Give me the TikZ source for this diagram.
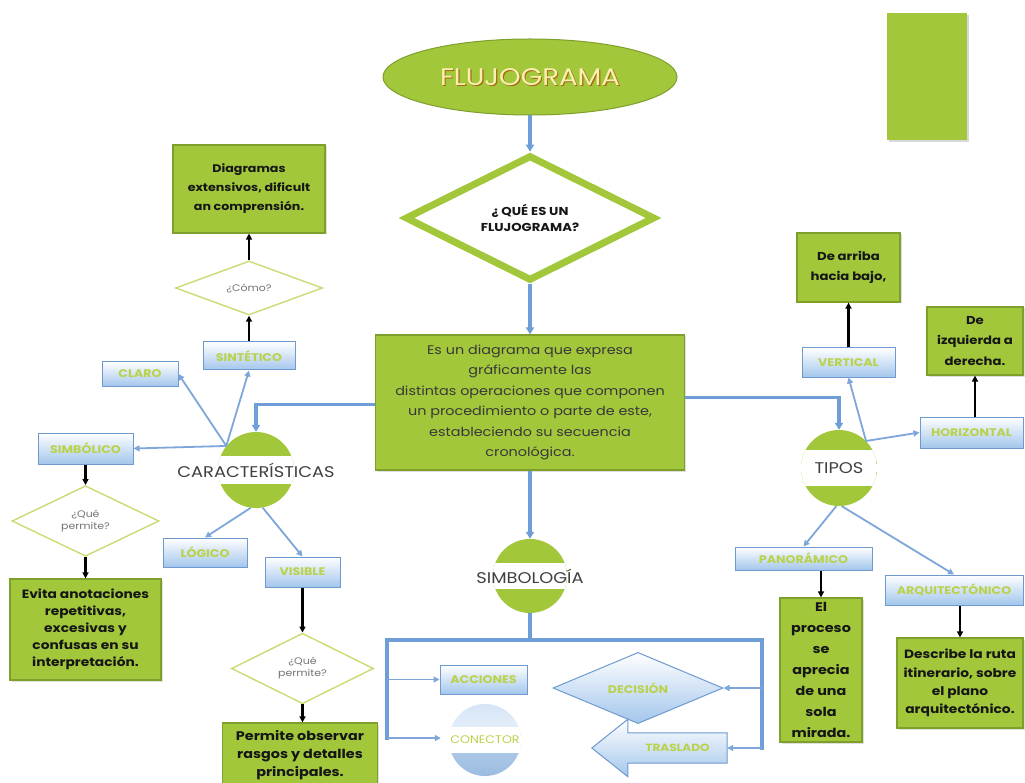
\documentclass[tikz,border=0pt]{standalone}
\usepackage{fontspec}
\setmainfont[FakeStretch=1.15]{Poppins}
\usetikzlibrary{arrows.meta,shapes.geometric,shadows}

\definecolor{leaf}{HTML}{A2C73B}
\definecolor{leafedge}{HTML}{7F9F2C}
\definecolor{flow}{HTML}{6E9DD7}
\definecolor{flowthin}{HTML}{7EA6DA}
\definecolor{skyedge}{HTML}{6E9AD0}
\definecolor{skylow}{HTML}{A3C6EC}
\definecolor{tag}{HTML}{B9D24A}
\definecolor{askedge}{HTML}{CBDB74}
\definecolor{ink}{HTML}{161616}
\definecolor{titlefill}{HTML}{F8F0B0}
\definecolor{titlerim}{HTML}{A8680E}

\tikzset{
  leafbox/.style={rectangle, fill=leaf, draw=leafedge, line width=1.2pt, align=center,
    text=ink, inner sep=2pt,
    drop shadow={opacity=0.25, shadow xshift=1.5pt, shadow yshift=-1.5pt}},
  skybox/.style={rectangle, top color=white, bottom color=skylow, draw=skyedge,
    line width=1pt, text=tag, font=\bfseries\fontsize{11}{11}\selectfont, inner sep=0pt},
  askdiamond/.style={diamond, draw=askedge, line width=1.4pt, fill=white, inner sep=0pt,
    text=black!55, align=center, font=\fontsize{9.5}{12}\selectfont},
  bandcircle/.style 2 args={circle, fill=leaf, inner sep=0pt, minimum size=#1,
    path picture={\fill[white] ([yshift=-#2]path picture bounding box.west)
      rectangle ([yshift=#2]path picture bounding box.east);}},
  bandtext/.style={text=black!75, font=\fontsize{15.5}{15.5}\selectfont},
  titleshadow/.style={text=titlerim, font=\fontsize{24}{24}\selectfont, xshift=1.2pt, yshift=-1.2pt},
  titletext/.style={text=titlefill, font=\fontsize{24}{24}\selectfont},
  thickflow/.style={draw=flow, line width=3.2pt, -{Triangle[length=7pt,width=8pt]}},
  thickline/.style={draw=flow, line width=3.2pt},
  thinflow/.style={draw=flowthin, line width=1.8pt, -{Triangle[length=6pt,width=6pt]}},
  blackarrow/.style={draw=black, line width=2.2pt, -{Triangle[length=6pt,width=6pt]}},
}

\begin{document}
\begin{tikzpicture}[x=1pt,y=-1pt]
\useasboundingbox (0,0) rectangle (1025,783);
\fill[white] (0,0) rectangle (1025,783);
\clip (0,0) rectangle (1025,783);

% blank green card, upper right
\node[rectangle, fill=leaf, minimum width=80, minimum height=127, inner sep=0pt,
  drop shadow={opacity=0.3, shadow xshift=1.5pt, shadow yshift=-2pt}] (card) at (927,76.5) {};

% title and central question
\node[ellipse, fill=leaf, draw=leafedge, line width=1pt, minimum width=294, minimum height=76,
  label={[titleshadow]center:FLUJOGRAMA}, label={[titletext]center:FLUJOGRAMA}] (title) at (530,77) {};
\node[diamond, draw=leaf, line width=7pt, fill=white, minimum width=250, minimum height=113,
  inner sep=0pt, align=center, text=ink, font=\bfseries\fontsize{11.5}{16}\selectfont] (what) at (530,218)
  {¿ QUÉ ES UN\\ FLUJOGRAMA?};

% definition
\node[leafbox, minimum width=309, minimum height=135, text=black!78,
  font=\fontsize{12.5}{20.5}\selectfont] (desc) at (530,402.5)
  {Es un diagrama que expresa\\ gráficamente las\\ distintas operaciones que componen\\
   un procedimiento o parte de este,\\ estableciendo su secuencia\\ cronológica.};

% three hubs
\node[bandcircle={76pt}{14pt}, label={[bandtext]center:CARACTERÍSTICAS}] (traits) at (256,470) {};
\node[bandcircle={76pt}{18pt}, label={[bandtext]center:TIPOS}] (kinds) at (839,468) {};
\node[bandcircle={74pt}{13pt}, label={[bandtext]center:SIMBOLOGÍA}] (symb) at (530,576) {};

% characteristics branch
\node[skybox, minimum width=76, minimum height=24] (clear) at (140,374) {CLARO};
\node[skybox, minimum width=92, minimum height=28] (synth) at (249,356) {SINTÉTICO};
\node[askdiamond, minimum width=147, minimum height=53] (how) at (249,288) {¿Cómo?};
\node[leafbox, minimum width=152, minimum height=88, font=\bfseries\fontsize{11}{19}\selectfont]
  (diag) at (249,189) {Diagramas\\ extensivos, dificult\\ an comprensión.};
\node[skybox, minimum width=95, minimum height=31] (symbolic) at (85.5,448.5) {SIMBÓLICO};
\node[askdiamond, minimum width=147, minimum height=52] (ask1) at (85.5,521) {¿Qué\\ permite?};
\node[leafbox, minimum width=151, minimum height=101, font=\bfseries\fontsize{12}{17}\selectfont]
  (avoid) at (85.5,629.5) {Evita anotaciones\\ repetitivas,\\ excesivas y\\ confusas en su\\ interpretación.};
\node[skybox, minimum width=84, minimum height=29] (logical) at (205,552.5) {LÓGICO};
\node[skybox, minimum width=75, minimum height=30] (visible) at (302.5,572) {VISIBLE};
\node[askdiamond, minimum width=142, minimum height=63] (ask2) at (302.5,668.5) {¿Qué\\ permite?};
\node[leafbox, minimum width=155, minimum height=64, font=\bfseries\fontsize{12.5}{18.3}\selectfont]
  (observe) at (300,755) {Permite observar\\ rasgos y detalles\\ principales.};

% types branch
\node[skybox, minimum width=93, minimum height=29] (vertical) at (848.5,362.5) {VERTICAL};
\node[leafbox, minimum width=103, minimum height=69, font=\bfseries\fontsize{11.5}{20}\selectfont]
  (topdown) at (848.5,267.5) {De arriba\\ hacia bajo,};
\node[skybox, minimum width=103, minimum height=31] (horizontal) at (971.5,432.5) {HORIZONTAL};
\node[leafbox, minimum width=96, minimum height=68, font=\bfseries\fontsize{11.5}{20.5}\selectfont]
  (leftright) at (975,341) {De\\ izquierda a\\ derecha.};
\node[skybox, minimum width=137, minimum height=23] (panoramic) at (803.5,558.5) {PANORÁMICO};
\node[skybox, minimum width=138, minimum height=30] (architectural) at (954,590) {ARQUITECTÓNICO};
\node[leafbox, minimum width=82, minimum height=144, font=\bfseries\fontsize{12.5}{21}\selectfont]
  (glance) at (821,670) {El\\ proceso\\ se\\ aprecia\\ de una\\ sola\\ mirada.};
\node[leafbox, minimum width=126, minimum height=90, font=\bfseries\fontsize{12}{18.3}\selectfont]
  (route) at (960,683) {Describe la ruta\\ itinerario, sobre\\ el plano\\ arquitectónico.};

% symbols
\node[skybox, minimum width=87, minimum height=29] (actions) at (483.5,679.5) {ACCIONES};
\node[diamond, top color=white, bottom color=skylow, draw=skyedge, line width=1pt,
  minimum width=170, minimum height=60, inner sep=0pt, text=tag,
  font=\bfseries\fontsize{11}{11}\selectfont] (decision) at (638,688) {DECISIÓN};
\node[circle, minimum size=72pt, inner sep=0pt, top color=skylow!45, bottom color=white,
  text=tag, font=\fontsize{11}{11}\selectfont,
  path picture={
    \shade[top color=skylow!55, bottom color=skylow!95!black]
      ([yshift=-13pt]path picture bounding box.west) rectangle (path picture bounding box.south east);
    \fill[white] ([yshift=-13pt]path picture bounding box.west)
      rectangle ([yshift=13pt]path picture bounding box.east);}] (connector) at (485,740) {CONECTOR};
\node[rectangle, minimum width=99, minimum height=30, inner sep=0pt] (move) at (677.5,748) {};
\shade[top color=white, bottom color=skylow, draw=skyedge, line width=1pt]
  (move.north east) -- (move.north west) -- ([yshift=13.5pt]move.north west)
  -- ([xshift=-36pt]move.west) -- ([yshift=-13.5pt]move.south west)
  -- (move.south west) -- (move.south east) -- cycle;
\node[text=tag, font=\bfseries\fontsize{10.5}{10.5}\selectfont] (move-label) at (move) {TRASLADO};

% main flow
\draw[thickflow] (title.south) -- (what.north);
\draw[thickflow] (what.south) -- (desc.north);
\draw[thickflow] ([yshift=-2pt]desc.west) -| (traits.north);
\draw[thickflow] ([yshift=5pt]desc.east) -| (kinds.north);
\draw[thickflow] (desc.south) -- (symb.north);

% symbol bus
\coordinate (busL) at (387,640);
\coordinate (busR) at (762,640);
\coordinate (busLlow) at (387,738);
\coordinate (busRlow) at (762,748);
\draw[thickline] (symb.south) -- (symb.south |- busL);
\draw[thickline, line cap=rect] (busLlow) -- (busL) -- (busR) -- (busRlow);
\draw[thinflow] (busL |- actions.west) -- (actions.west);
\draw[thinflow, shorten >=8pt] (busLlow) -- (busLlow -| connector.west);
\draw[thinflow] (busR |- decision.east) -- (decision.east);
\draw[thinflow] (busRlow) -- (move.east);

% characteristics links
\draw[thinflow] (traits.141) -- (clear.east);
\draw[thinflow] (traits.141) -- (synth.south);
\draw[thinflow] (traits.141) -- (symbolic.east);
\draw[thinflow] (traits.262) -- (logical.north);
\draw[thinflow] (traits.280) -- (visible.north);
\draw[blackarrow] (synth.north) -- (how.south);
\draw[blackarrow] (how.north) -- (diag.south);
\draw[blackarrow] (symbolic.south) -- (ask1.north);
\draw[blackarrow] (ask1.south) -- (avoid.north);
\draw[blackarrow] (visible.south) -- (ask2.north);
\draw[blackarrow] (ask2.south) -- (ask2.south |- observe.north);

% types links
\draw[thinflow] (kinds.45) -- (vertical.south);
\draw[thinflow] (kinds.45) -- (horizontal.west);
\draw[thinflow] (kinds.266) -- (panoramic.north);
\draw[thinflow] (kinds.274) -- (architectural.north);
\draw[blackarrow] (vertical.north) -- (topdown.south);
\draw[blackarrow] (leftright.south |- horizontal.north) -- (leftright.south);
\draw[blackarrow] (glance.north |- panoramic.south) -- (glance.north);
\draw[blackarrow] (route.north |- architectural.south) -- (route.north);
\end{tikzpicture}
\end{document}
